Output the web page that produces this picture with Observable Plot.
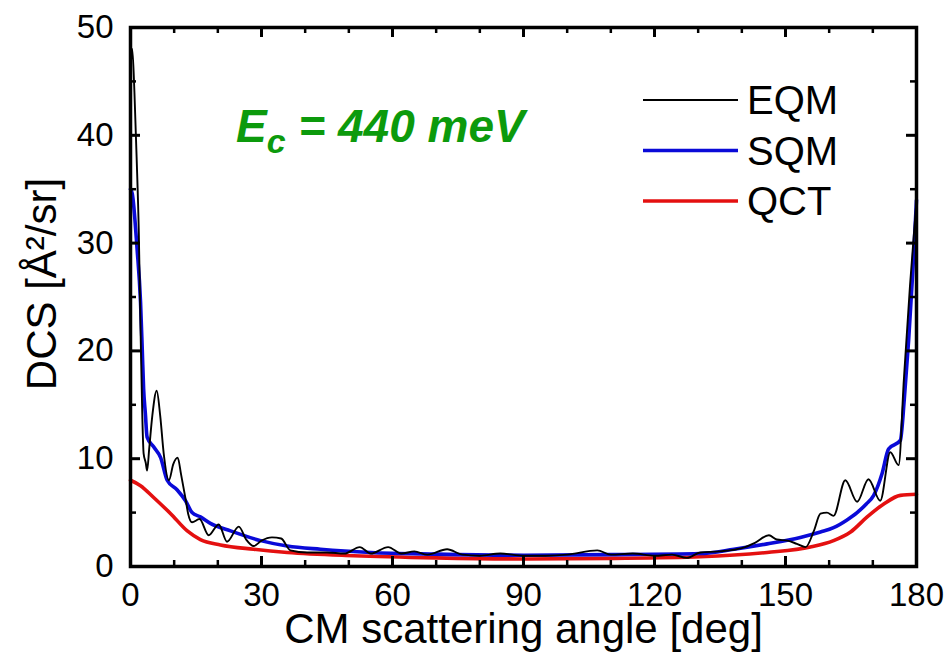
<!DOCTYPE html>
<html>
<head>
<meta charset="utf-8">
<script src="https://cdn.jsdelivr.net/npm/d3@7"></script>
<script src="https://cdn.jsdelivr.net/npm/@observablehq/plot@0.6"></script>
<style>
  body { margin: 0; background: #fff; }
  #chart { position: relative; width: 948px; height: 669px; }
</style>
</head>
<body>
<div id="chart"></div>
<script>
// ---- data ----
const seriesNames = ["EQM", "SQM", "QCT"];
const seriesColors = ["#000000", "#0a0ad8", "#e41010"];
const seriesWidths = [1.9, 3.6, 3.6];

const eqmAngle = [0, 0.4, 0.9, 1.4, 1.9, 2.3, 2.7, 3.0, 3.5, 3.8, 4.3, 5.0, 6.0, 6.8, 7.6, 8.8, 9.8, 10.8, 11.6, 12.6, 13.2, 14.1, 15.8, 17.9, 20.2, 22.1, 24.8, 26.5, 28.2, 30, 32.4, 34.5, 36.6, 40.5, 45, 49, 52.5, 55, 59, 62, 65, 68, 72.5, 76, 80, 84.7, 90, 95, 100, 106.9, 110, 115, 120, 124, 127.4, 130.5, 135, 140, 143, 146.2, 148, 150.5, 152.6, 154.6, 156.5, 158, 159.5, 161, 163.7, 166.4, 169, 171.7, 174, 175.9, 177.1, 178.5, 180];
const eqmDcs   = [46, 48, 44, 38, 31, 22, 14, 10.5, 9.6, 8.9, 11, 14, 16.3, 14, 10.5, 8.0, 9.5, 10.1, 8.5, 6.3, 4.9, 4.1, 4.4, 2.9, 3.9, 2.3, 3.7, 2.5, 1.9, 2.4, 2.7, 2.6, 1.5, 1.3, 1.3, 1.2, 1.8, 1.2, 1.8, 1.2, 1.4, 1.1, 1.6, 1.1, 1.0, 1.2, 1.0, 1.0, 1.1, 1.5, 1.1, 1.2, 1.0, 1.1, 0.8, 1.3, 1.4, 1.7, 2.2, 2.9, 2.5, 2.4, 2.1, 1.8, 3.3, 4.9, 5.0, 4.7, 8.0, 6.0, 8.1, 6.1, 10.6, 9.4, 17.3, 26, 34];

const sqmAngle = [0, 0.4, 1.5, 2.3, 2.7, 3.0, 3.4, 3.8, 5.3, 6.9, 8.4, 10.7, 12.6, 14.1, 16, 18.3, 22.9, 29.8, 35.9, 43.5, 55, 70, 90, 110, 130.5, 138.2, 145.8, 153.4, 158, 161, 164, 166.4, 168.5, 170.2, 172.1, 173.6, 176.3, 177.2, 178.2, 179.1, 180];
const sqmDcs   = [35, 34.6, 29.5, 24.5, 20, 16.5, 14.2, 12.0, 11.1, 10.1, 8.0, 7.1, 6.1, 5.0, 4.6, 4.0, 3.3, 2.4, 1.9, 1.6, 1.3, 1.15, 1.05, 1.1, 1.2, 1.6, 2.1, 2.7, 3.2, 3.6, 4.3, 5.0, 5.8, 6.6, 8.6, 10.9, 11.7, 15.5, 21, 27, 34];

const qctAngle = [0, 2.3, 5.3, 9.2, 13, 16, 20.6, 28.2, 35.9, 51.1, 70, 90, 110, 130.5, 145.8, 155.7, 161, 164.9, 168.7, 172.5, 176.3, 180];
const qctDcs   = [8.0, 7.5, 6.4, 4.9, 3.3, 2.5, 2.0, 1.6, 1.3, 1.0, 0.8, 0.7, 0.75, 0.9, 1.3, 1.8, 2.4, 3.2, 4.6, 5.8, 6.6, 6.7];

const xMajorTicks = [0, 30, 60, 90, 120, 150, 180];
const xMinorTicks = [10, 20, 40, 50, 70, 80, 100, 110, 130, 140, 160, 170];
const yMajorTicks = [0, 10, 20, 30, 40, 50];
const yMinorTicks = [5, 15, 25, 35, 45];

const xTitle = "CM scattering angle [deg]";
const yTitle = "DCS [Å²/sr]";

// ---- tables ----
const toRows = (name, a, v) => a.map((x, i) => ({series: name, angle: x, dcs: v[i]}));
const tables = [
  toRows("EQM", eqmAngle, eqmDcs),
  toRows("SQM", sqmAngle, sqmDcs),
  toRows("QCT", qctAngle, qctDcs)
];

const font = "'Liberation Sans', Arial, sans-serif";
const W = 948, H = 669, ML = 130, MR = 32, MT = 27, MB = 103;
const FW = W - ML - MR, FH = H - MT - MB;   // frame size in px
const MAJ = 10, MIN = 6;                     // inward tick lengths in px

const chart = Plot.plot({
  width: W,
  height: H,
  marginLeft: ML,
  marginRight: MR,
  marginTop: MT,
  marginBottom: MB,
  style: {fontFamily: font, color: "#000", background: "#fff", overflow: "visible"},
  x: {domain: [0, 180]},
  y: {domain: [0, 50]},
  marks: [
    // curves
    Plot.line(tables[2], {x: "angle", y: "dcs", stroke: seriesColors[2], strokeWidth: seriesWidths[2], curve: "monotone-x"}),
    Plot.line(tables[1], {x: "angle", y: "dcs", stroke: seriesColors[1], strokeWidth: seriesWidths[1], curve: "monotone-x"}),
    Plot.line(tables[0], {x: "angle", y: "dcs", stroke: seriesColors[0], strokeWidth: seriesWidths[0], curve: "monotone-x"}),
    // inward ticks on all four sides
    Plot.tickX(xMajorTicks, {x: d => d, insetTop: FH - MAJ, stroke: "#000", strokeWidth: 3}),
    Plot.tickX(xMinorTicks, {x: d => d, insetTop: FH - MIN, stroke: "#000", strokeWidth: 2.5}),
    Plot.tickX(xMajorTicks, {x: d => d, insetBottom: FH - MAJ, stroke: "#000", strokeWidth: 3}),
    Plot.tickX(xMinorTicks, {x: d => d, insetBottom: FH - MIN, stroke: "#000", strokeWidth: 2.5}),
    Plot.tickY(yMajorTicks, {y: d => d, insetRight: FW - MAJ, stroke: "#000", strokeWidth: 3}),
    Plot.tickY(yMinorTicks, {y: d => d, insetRight: FW - MIN, stroke: "#000", strokeWidth: 2.5}),
    Plot.tickY(yMajorTicks, {y: d => d, insetLeft: FW - MAJ, stroke: "#000", strokeWidth: 3}),
    Plot.tickY(yMinorTicks, {y: d => d, insetLeft: FW - MIN, stroke: "#000", strokeWidth: 2.5}),
    // tick labels
    Plot.axisX(xMajorTicks, {anchor: "bottom", tickSize: 0, tickPadding: 16, fontSize: 33, label: null, fill: "#000"}),
    Plot.axisY(yMajorTicks, {anchor: "left", tickSize: 0, tickPadding: 17, fontSize: 33, label: null, fill: "#000"}),
    // axis titles
    Plot.text([xTitle], {text: d => d, frameAnchor: "bottom", textAnchor: "middle", lineAnchor: "middle", dy: 63, fontSize: 42, fill: "#000"}),
    Plot.text([yTitle], {text: d => d, frameAnchor: "left", textAnchor: "middle", lineAnchor: "middle", rotate: -90, dx: -88, dy: -13, fontSize: 42, fill: "#000"}),
    Plot.frame({strokeWidth: 3.5, stroke: "#000"})
  ]
});

document.getElementById("chart").appendChild(chart);

// ---- legend (inside plot, top right) ----
const svg = d3.select(chart);
const legend = svg.append("g")
  .attr("font-family", font).attr("font-size", 40).attr("text-anchor", "start");
seriesNames.forEach((name, i) => {
  const cy = 100 + i * 50.5;
  legend.append("line")
    .attr("x1", 643).attr("x2", 738).attr("y1", cy).attr("y2", cy)
    .attr("stroke", seriesColors[i]).attr("stroke-width", seriesWidths[i]);
  legend.append("text")
    .attr("x", 747).attr("y", cy + 14)
    .attr("fill", "#000")
    .text(name);
});

// ---- annotation: E_c = 440 meV ----
const ann = svg.append("text")
  .attr("x", 236).attr("y", 142)
  .attr("text-anchor", "start")
  .attr("font-family", font)
  .attr("font-weight", "bold").attr("font-style", "italic")
  .attr("font-size", 46).attr("fill", "#0c9a0c");
ann.append("tspan").text("E");
ann.append("tspan").attr("font-size", 34).attr("dy", 11).text("c");
ann.append("tspan").attr("dy", -11).text(" = 440 meV");
</script>
</body>
</html>
